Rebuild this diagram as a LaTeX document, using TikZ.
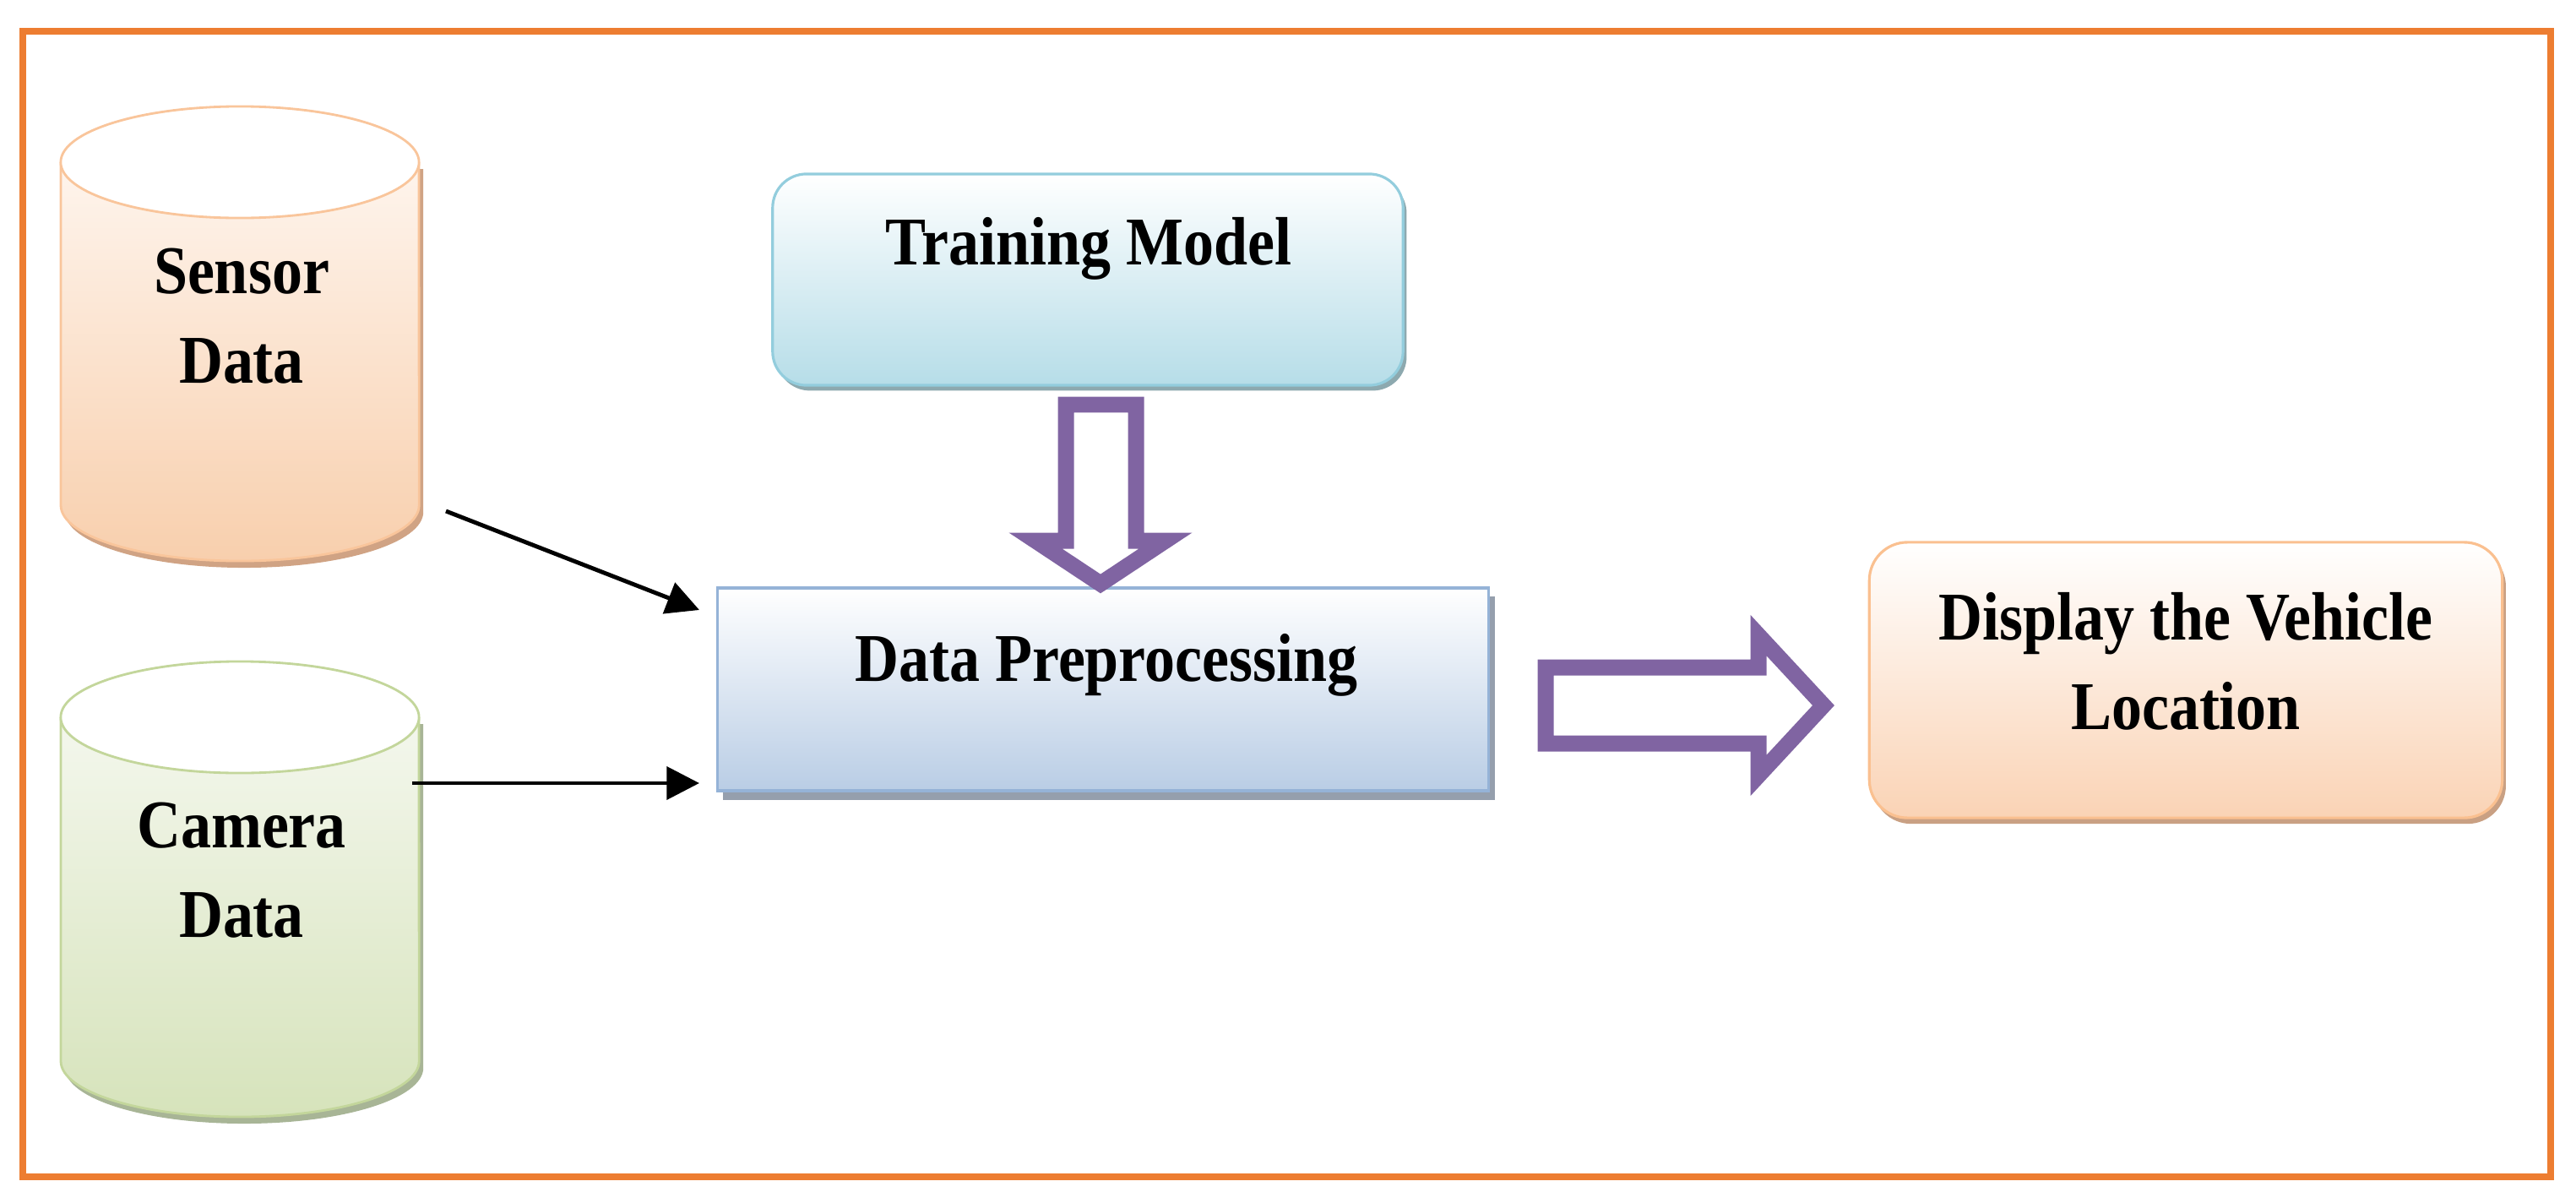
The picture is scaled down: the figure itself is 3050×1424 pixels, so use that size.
\documentclass[tikz,border=0pt]{standalone}
\usepackage{fontspec}
\newfontfamily\labfont[FakeStretch=0.89]{Liberation Serif}
\usetikzlibrary{arrows.meta,shadows}
\definecolor{frameor}{HTML}{ED7D31}
\definecolor{arrowpurple}{HTML}{8064A2}
\definecolor{senedge}{HTML}{F9C59B}
\definecolor{sentop}{HTML}{FFFAF6}
\definecolor{senbot}{HTML}{F8CFAD}
\definecolor{senshadow}{HTML}{D0A384}
\definecolor{camedge}{HTML}{C3D69B}
\definecolor{camtop}{HTML}{F8FAF4}
\definecolor{cambot}{HTML}{D6E3BB}
\definecolor{camshadow}{HTML}{A8B596}
\definecolor{tmedge}{HTML}{93CDDD}
\definecolor{tmbot}{HTML}{B6DDE8}
\definecolor{tmshadow}{HTML}{8DA9AF}
\definecolor{dpedge}{HTML}{95B3D7}
\definecolor{dpbot}{HTML}{B9CDE5}
\definecolor{dpshadow}{HTML}{959FAD}
\definecolor{dsedge}{HTML}{FAC090}
\definecolor{dsbot}{HTML}{FAD3B5}
\definecolor{dsshadow}{HTML}{C9A083}
\begin{document}
\begin{tikzpicture}[x=0.01cm,y=-0.01cm,
  lab/.style={font={\labfont\bfseries\fontsize{23}{30}\selectfont}, align=center, inner sep=0pt, text=black},
  conn/.style={line width=1.4pt, -{Triangle[length=11pt,width=11pt]}},
  blockarrow/.style={draw=arrowpurple, fill=white, line width=5.4pt, miter limit=10},
  tmbox/.style={draw=tmedge, line width=0.9pt, rounded corners=0.4cm, top color=white, bottom color=tmbot,
    general shadow={fill=tmshadow, shadow xshift=1.2pt, shadow yshift=-1.8pt}},
  dpbox/.style={draw=dpedge, line width=0.9pt, top color=white, bottom color=dpbot,
    general shadow={fill=dpshadow, shadow xshift=2pt, shadow yshift=-3pt}},
  dsbox/.style={draw=dsedge, line width=0.9pt, rounded corners=0.45cm, top color=white, bottom color=dsbot,
    general shadow={fill=dsshadow, shadow xshift=1.2pt, shadow yshift=-2pt}},
  cylrad/.style={x radius=2.12cm, y radius=0.66cm}
]
\useasboundingbox (0,0) rectangle (3050,1424);
% outer frame
\draw[frameor, line width=2.3pt] (27,37) rectangle (3020,1393);

% ---- Sensor cylinder
\begin{scope}[shift={(5,8)}]
  \fill[senshadow] (72,192) -- (72,598) arc[start angle=180, end angle=360, cylrad] -- (496,192) -- cycle;
\end{scope}
\shade[top color=sentop, bottom color=senbot] (72,192) -- (72,598) arc[start angle=180, end angle=360, cylrad] -- (496,192) arc[start angle=0, end angle=180, cylrad] -- cycle;
\draw[senedge, line width=0.8pt] (72,192) -- (72,598) arc[start angle=180, end angle=360, cylrad] -- (496,192);
\draw[senedge, line width=0.8pt, fill=white] (284,192) ellipse [cylrad];
\node[lab] (sent) at (286,374) {Sensor\\Data};

% ---- Camera cylinder
\begin{scope}[shift={(5,8)}]
  \fill[camshadow] (72,849) -- (72,1256) arc[start angle=180, end angle=360, cylrad] -- (496,849) -- cycle;
\end{scope}
\shade[top color=camtop, bottom color=cambot] (72,849) -- (72,1256) arc[start angle=180, end angle=360, cylrad] -- (496,849) arc[start angle=0, end angle=180, cylrad] -- cycle;
\draw[camedge, line width=0.8pt] (72,849) -- (72,1256) arc[start angle=180, end angle=360, cylrad] -- (496,849);
\draw[camedge, line width=0.8pt, fill=white] (284,849) ellipse [cylrad];
\node[lab] (camt) at (286,1030) {Camera\\Data};

% ---- Boxes
\node[tmbox, minimum width=7.46cm, minimum height=2.5cm] (tm) at (1288,331) {};
\node[lab, anchor=base] (tmt) at (1289,313) {Training Model};

\node[dpbox, minimum width=9.13cm, minimum height=2.4cm] (dp) at (1306,816) {};
\node[lab, anchor=base] (dpt) at (1310,806) {Data Preprocessing};

\node[dsbox, minimum width=7.49cm, minimum height=3.26cm] (ds) at (2588,805) {};
\node[lab] (dst) at (2588,783) {Display the Vehicle\\Location};

% ---- thin arrows
\coordinate (senout) at (528,605);
\coordinate (dpin1) at (828,722);
\coordinate (camout) at (488,927);
\coordinate (dpin2) at (828,927);
\draw[conn] (senout) -- (dpin1);
\draw[conn] (camout) -- (dpin2);

% ---- block arrows
\draw[blockarrow] (1262,479) -- (1345,479) -- (1345,640) -- (1380,640) -- (1303,691) -- (1226,640) -- (1262,640) -- cycle;
\draw[blockarrow] (1830,790) -- (2082,790) -- (2082,752) -- (2159,835) -- (2082,918) -- (2082,880) -- (1830,880) -- cycle;
\end{tikzpicture}
\end{document}
